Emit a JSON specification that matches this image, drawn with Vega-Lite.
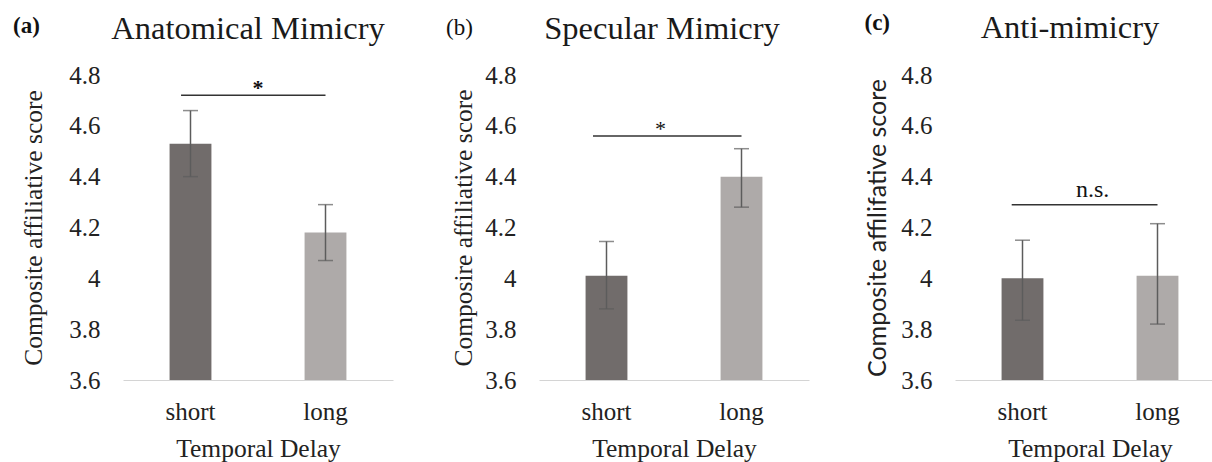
{
  "$schema": "https://vega.github.io/schema/vega-lite/v6.json",
  "background": "white",
  "padding": {"left": 13, "top": 11, "right": 0, "bottom": 0},
  "bounds": "flush",
  "spacing": 146,
  "resolve": {"scale": {"y": "independent", "x": "independent"}, "axis": {"y": "independent", "x": "independent"}},
  "config": {
    "font": "Liberation Serif",
    "view": {"stroke": null},
    "axis": {"labelFont": "Liberation Serif", "labelFontSize": 25, "labelColor": "#222", "titleFont": "Liberation Serif", "titleFontWeight": "normal", "titleColor": "#222", "ticks": false, "tickSize": 0, "grid": false},
    "axisX": {"titleFontSize": 25.5, "titlePadding": 12, "labelPadding": 19, "labelAngle": 0, "domainColor": "#d4d4d4", "domainWidth": 1},
    "axisY": {"titleFontSize": 25.5, "labelPadding": 23, "domain": false}
  },
  "hconcat": [
    {
      "width": 270, "height": 305,
      "title": {"text": "Anatomical Mimicry", "font": "Liberation Serif", "fontSize": 32.5, "fontWeight": "normal", "color": "#1a1a1a", "anchor": "middle", "frame": "group", "dx": -10, "baseline": "alphabetic", "offset": -56},
      "data": {"values": [
        {"delay": "short", "mean": 4.53, "lo": 4.40, "hi": 4.66},
        {"delay": "long", "mean": 4.18, "lo": 4.07, "hi": 4.29}
      ]},
      "layer": [
        {
          "mark": {"type": "bar", "width": {"band": 0.31}},
          "encoding": {
            "x": {"field": "delay", "type": "nominal", "title": "Temporal Delay", "scale": {"domain": ["short", "long"], "paddingInner": 0, "paddingOuter": 0}},
            "y": {"field": "mean", "type": "quantitative", "title": "Composite affiliative score", "scale": {"domain": [3.6, 4.8], "nice": false, "zero": false}, "axis": {"values": [3.6, 3.8, 4, 4.2, 4.4, 4.6, 4.8], "format": "~g", "titlePadding": 22}},
            "y2": {"datum": 3.6},
            "color": {"field": "delay", "type": "nominal", "scale": {"domain": ["short", "long"], "range": ["#716c6b", "#aeaaa9"]}, "legend": null}
          }
        },
        {
          "mark": {"type": "errorbar", "color": "#5c5c5c", "thickness": 1.5, "ticks": {"size": 15, "thickness": 1.5, "color": "#5c5c5c"}},
          "encoding": {
            "x": {"field": "delay", "type": "nominal", "title": "Temporal Delay", "scale": {"domain": ["short", "long"]}},
            "y": {"field": "lo", "type": "quantitative", "title": "Composite affiliative score", "scale": {"domain": [3.6, 4.8]}, "axis": {"values": [3.6, 3.8, 4, 4.2, 4.4, 4.6, 4.8], "format": "~g", "titlePadding": 22}},
            "y2": {"field": "hi"}
          }
        },
        {
          "data": {"values": [{"from": "short", "to": "long", "level": 4.72, "label": "*"}]},
          "layer": [
            {
              "mark": {"type": "rule", "color": "#333333", "strokeWidth": 1.5},
              "encoding": {
                "x": {"field": "from", "type": "nominal", "title": "Temporal Delay", "bandPosition": 0.43, "scale": {"domain": ["short", "long"]}},
                "x2": {"field": "to"},
                "y": {"field": "level", "type": "quantitative", "title": "Composite affiliative score", "scale": {"domain": [3.6, 4.8]}, "axis": {"values": [3.6, 3.8, 4, 4.2, 4.4, 4.6, 4.8], "format": "~g", "titlePadding": 22}}
              }
            },
            {
              "mark": {"type": "text", "font": "Liberation Serif", "fontSize": 22, "fontWeight": "bold", "color": "#111", "align": "center", "baseline": "alphabetic", "dy": 0},
              "encoding": {
                "x": {"field": "from", "type": "nominal", "title": "Temporal Delay", "bandPosition": 1.0, "scale": {"domain": ["short", "long"]}},
                "y": {"field": "level", "type": "quantitative", "title": "Composite affiliative score", "scale": {"domain": [3.6, 4.8]}, "axis": {"values": [3.6, 3.8, 4, 4.2, 4.4, 4.6, 4.8], "format": "~g", "titlePadding": 22}},
                "text": {"field": "label"}
              }
            }
          ]
        },
        {
          "data": {"values": [{"tag": "(a)"}]},
          "mark": {"type": "text", "font": "Liberation Serif", "fontSize": 23, "fontWeight": "bold", "color": "#111", "align": "left", "baseline": "alphabetic", "dx": -177.5, "dy": -42},
          "encoding": {
            "x": {"datum": "short", "title": "Temporal Delay"},
            "y": {"datum": 4.8, "title": "Composite affiliative score"},
            "text": {"field": "tag"}
          }
        }
      ]
    },
    {
      "width": 270, "height": 305,
      "title": {"text": "Specular Mimicry", "font": "Liberation Serif", "fontSize": 32.5, "fontWeight": "normal", "color": "#1a1a1a", "anchor": "middle", "frame": "group", "dx": -12, "baseline": "alphabetic", "offset": -54},
      "data": {"values": [
        {"delay": "short", "mean": 4.01, "lo": 3.88, "hi": 4.145},
        {"delay": "long", "mean": 4.40, "lo": 4.28, "hi": 4.51}
      ]},
      "layer": [
        {
          "mark": {"type": "bar", "width": {"band": 0.31}},
          "encoding": {
            "x": {"field": "delay", "type": "nominal", "title": "Temporal Delay", "scale": {"domain": ["short", "long"], "paddingInner": 0, "paddingOuter": 0}},
            "y": {"field": "mean", "type": "quantitative", "title": "Composire affiliative score", "scale": {"domain": [3.6, 4.8], "nice": false, "zero": false}, "axis": {"values": [3.6, 3.8, 4, 4.2, 4.4, 4.6, 4.8], "format": "~g", "titlePadding": 8}},
            "y2": {"datum": 3.6},
            "color": {"field": "delay", "type": "nominal", "scale": {"domain": ["short", "long"], "range": ["#716c6b", "#aeaaa9"]}, "legend": null}
          }
        },
        {
          "mark": {"type": "errorbar", "color": "#5c5c5c", "thickness": 1.5, "ticks": {"size": 15, "thickness": 1.5, "color": "#5c5c5c"}},
          "encoding": {
            "x": {"field": "delay", "type": "nominal", "title": "Temporal Delay", "scale": {"domain": ["short", "long"]}},
            "y": {"field": "lo", "type": "quantitative", "title": "Composire affiliative score", "scale": {"domain": [3.6, 4.8]}, "axis": {"values": [3.6, 3.8, 4, 4.2, 4.4, 4.6, 4.8], "format": "~g", "titlePadding": 8}},
            "y2": {"field": "hi"}
          }
        },
        {
          "data": {"values": [{"from": "short", "to": "long", "level": 4.56, "label": "*"}]},
          "layer": [
            {
              "mark": {"type": "rule", "color": "#333333", "strokeWidth": 1.5},
              "encoding": {
                "x": {"field": "from", "type": "nominal", "title": "Temporal Delay", "bandPosition": 0.40, "scale": {"domain": ["short", "long"]}},
                "x2": {"field": "to"},
                "y": {"field": "level", "type": "quantitative", "title": "Composire affiliative score", "scale": {"domain": [3.6, 4.8]}, "axis": {"values": [3.6, 3.8, 4, 4.2, 4.4, 4.6, 4.8], "format": "~g", "titlePadding": 8}}
              }
            },
            {
              "mark": {"type": "text", "font": "Liberation Serif", "fontSize": 22, "fontWeight": "normal", "color": "#111", "align": "center", "baseline": "alphabetic", "dy": 0},
              "encoding": {
                "x": {"field": "from", "type": "nominal", "title": "Temporal Delay", "bandPosition": 0.90, "scale": {"domain": ["short", "long"]}},
                "y": {"field": "level", "type": "quantitative", "title": "Composire affiliative score", "scale": {"domain": [3.6, 4.8]}, "axis": {"values": [3.6, 3.8, 4, 4.2, 4.4, 4.6, 4.8], "format": "~g", "titlePadding": 8}},
                "text": {"field": "label"}
              }
            }
          ]
        },
        {
          "data": {"values": [{"tag": "(b)"}]},
          "mark": {"type": "text", "font": "Liberation Serif", "fontSize": 23, "fontWeight": "normal", "color": "#111", "align": "left", "baseline": "alphabetic", "dx": -160.5, "dy": -40},
          "encoding": {
            "x": {"datum": "short", "title": "Temporal Delay"},
            "y": {"datum": 4.8, "title": "Composire affiliative score"},
            "text": {"field": "tag"}
          }
        }
      ]
    },
    {
      "width": 270, "height": 305,
      "title": {"text": "Anti-mimicry", "font": "Liberation Serif", "fontSize": 32.5, "fontWeight": "normal", "color": "#1a1a1a", "anchor": "middle", "frame": "group", "dx": -20, "baseline": "alphabetic", "offset": -58},
      "data": {"values": [
        {"delay": "short", "mean": 4.00, "lo": 3.835, "hi": 4.15},
        {"delay": "long", "mean": 4.01, "lo": 3.82, "hi": 4.215}
      ]},
      "layer": [
        {
          "mark": {"type": "bar", "width": {"band": 0.31}},
          "encoding": {
            "x": {"field": "delay", "type": "nominal", "title": "Temporal Delay", "scale": {"domain": ["short", "long"], "paddingInner": 0, "paddingOuter": 0}},
            "y": {"field": "mean", "type": "quantitative", "title": "Composite affilifative score", "scale": {"domain": [3.6, 4.8], "nice": false, "zero": false}, "axis": {"values": [3.6, 3.8, 4, 4.2, 4.4, 4.6, 4.8], "format": "~g", "titlePadding": 10, "titleFont": "Lato", "titleFontSize": 25}},
            "y2": {"datum": 3.6},
            "color": {"field": "delay", "type": "nominal", "scale": {"domain": ["short", "long"], "range": ["#716c6b", "#aeaaa9"]}, "legend": null}
          }
        },
        {
          "mark": {"type": "errorbar", "color": "#5c5c5c", "thickness": 1.5, "ticks": {"size": 15, "thickness": 1.5, "color": "#5c5c5c"}},
          "encoding": {
            "x": {"field": "delay", "type": "nominal", "title": "Temporal Delay", "scale": {"domain": ["short", "long"]}},
            "y": {"field": "lo", "type": "quantitative", "title": "Composite affilifative score", "scale": {"domain": [3.6, 4.8]}, "axis": {"values": [3.6, 3.8, 4, 4.2, 4.4, 4.6, 4.8], "format": "~g", "titlePadding": 10, "titleFont": "Lato", "titleFontSize": 25}},
            "y2": {"field": "hi"}
          }
        },
        {
          "data": {"values": [{"from": "short", "to": "long", "level": 4.29, "label": "n.s."}]},
          "layer": [
            {
              "mark": {"type": "rule", "color": "#333333", "strokeWidth": 1.5},
              "encoding": {
                "x": {"field": "from", "type": "nominal", "title": "Temporal Delay", "bandPosition": 0.42, "scale": {"domain": ["short", "long"]}},
                "x2": {"field": "to"},
                "y": {"field": "level", "type": "quantitative", "title": "Composite affilifative score", "scale": {"domain": [3.6, 4.8]}, "axis": {"values": [3.6, 3.8, 4, 4.2, 4.4, 4.6, 4.8], "format": "~g", "titlePadding": 10, "titleFont": "Lato", "titleFontSize": 25}}
              }
            },
            {
              "mark": {"type": "text", "font": "Liberation Serif", "fontSize": 24, "fontWeight": "normal", "color": "#111", "align": "center", "baseline": "alphabetic", "dy": -8},
              "encoding": {
                "x": {"field": "from", "type": "nominal", "title": "Temporal Delay", "bandPosition": 1.02, "scale": {"domain": ["short", "long"]}},
                "y": {"field": "level", "type": "quantitative", "title": "Composite affilifative score", "scale": {"domain": [3.6, 4.8]}, "axis": {"values": [3.6, 3.8, 4, 4.2, 4.4, 4.6, 4.8], "format": "~g", "titlePadding": 10, "titleFont": "Lato", "titleFontSize": 25}},
                "text": {"field": "label"}
              }
            }
          ]
        },
        {
          "data": {"values": [{"tag": "(c)"}]},
          "mark": {"type": "text", "font": "Liberation Serif", "fontSize": 23, "fontWeight": "bold", "color": "#111", "align": "left", "baseline": "alphabetic", "dx": -158, "dy": -45},
          "encoding": {
            "x": {"datum": "short", "title": "Temporal Delay"},
            "y": {"datum": 4.8, "title": "Composite affilifative score"},
            "text": {"field": "tag"}
          }
        }
      ]
    }
  ]
}
